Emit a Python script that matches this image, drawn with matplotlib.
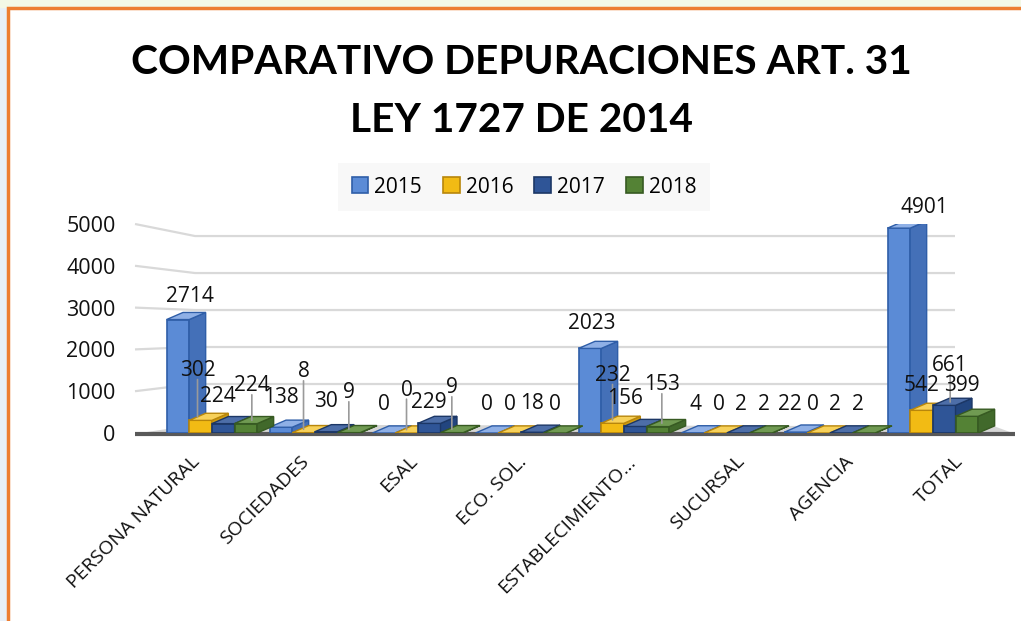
import matplotlib
matplotlib.use("Agg")
import matplotlib.pyplot as plt
from matplotlib.patches import Rectangle, Polygon
from matplotlib import font_manager as fm
import numpy as np

categories = ["PERSONA NATURAL", "SOCIEDADES", "ESAL", "ECO. SOL.",
              "ESTABLECIMIENTO…", "SUCURSAL", "AGENCIA", "TOTAL"]
years = ["2015", "2016", "2017", "2018"]
v2015 = [2714, 138, 0, 0, 2023, 4, 22, 4901]
v2016 = [302, 8, 0, 0, 232, 0, 0, 542]
v2017 = [224, 30, 229, 18, 156, 2, 2, 661]
v2018 = [224, 9, 9, 0, 153, 2, 2, 399]
series = [v2015, v2016, v2017, v2018]
yticks = [0, 1000, 2000, 3000, 4000, 5000]

# label placement (style): pixel shifts of each data label relative to its bar top
lab_dx = [
    [12, 0, 0, 0, 2, 3, -6, 26],
    [-3, 0, 0, 0, 0, 3, -6, 0],
    [-5, 0, 0, 0, -10, 3, -6, 6],
    [6, 0, 0, 0, 4, 3, -6, -5],
]
lab_dy = [
    [23, 30, 29, 29, 25, 28, 28, 21],
    [50, 61, 43, 29, 48, 28, 28, 25],
    [27, 30, 21, 29, 28, 28, 28, 40],
    [38, 40, 45, 29, 42, 28, 28, 31],
]
leader = [
    [0, 0, 0, 0, 0, 0, 0, 0],
    [1, 1, 1, 0, 1, 0, 0, 0],
    [0, 0, 0, 0, 0, 0, 0, 1],
    [1, 1, 1, 0, 1, 0, 0, 0],
]

front_colors = ["#5b8bd6", "#f2bb14", "#2f5597", "#548235"]
side_colors = ["#4470b8", "#cf9d10", "#22457f", "#41692b"]
top_colors = ["#8fb0e6", "#f7d15a", "#4d6ea8", "#709a52"]
edge_colors = ["#2f5ea8", "#b8860b", "#1c3766", "#375a22"]

names = set(f.name for f in fm.fontManager.ttflist)
body_font = "Open Sans" if "Open Sans" in names else "DejaVu Sans"
title_font = "Lato" if "Lato" in names else body_font

W, H = 1021, 621
fig = plt.figure(figsize=(W / 100, H / 100), dpi=100)
fig.patch.set_facecolor("#e8eff8")

# frame / background
bg = fig.add_axes([0, 0, 1, 1])
bg.set_xlim(0, W)
bg.set_ylim(H, 0)
bg.axis("off")
bg.add_patch(Rectangle((0, 0), W, 7, color="#f3f8e6", zorder=0))
bg.add_patch(Rectangle((8, 8), W, H, facecolor="white", edgecolor="#ed7d31", lw=2.5, zorder=1))

# axes geometry in pixels
x0_px, x1_px = 135, 1015
y0_px, y1_px = 433, 224
ax = fig.add_axes([x0_px / W, 1 - y0_px / H, (x1_px - x0_px) / W, (y0_px - y1_px) / H])
ax.patch.set_alpha(0)
cat_px0, cat_step = 217, 103
xlim = ((x0_px - cat_px0) / cat_step, (x1_px - cat_px0) / cat_step)
ax.set_xlim(*xlim)
ax.set_ylim(0, 5000)
for s in ax.spines.values():
    s.set_visible(False)

x = np.arange(len(categories))
wall_x = (195 - cat_px0) / cat_step
right_x = (955 - cat_px0) / cat_step

# back-wall gridlines (perspective)
for v in yticks[1:]:
    back = 287 + 0.885 * v
    ax.plot([xlim[0], wall_x, right_x], [v, back, back], color="#d9d9d9", lw=1.6,
            zorder=1, clip_on=False, solid_capstyle="butt")

# floor
ax.add_patch(Polygon([(xlim[0], -20), (xlim[1], -20), (xlim[1] - 0.2, 160), (wall_x, 200)],
                     closed=True, facecolor="#d6d6d6", edgecolor="none", zorder=1, clip_on=False))
ax.plot([xlim[0], xlim[1]], [-20, -20], color="#595959", lw=3, zorder=2, clip_on=False,
        solid_capstyle="butt")

# pseudo-3D bars
w = 0.22
dx, dy = 0.16, 170
offsets = [-0.49, -0.27, -0.05, 0.17]
px2pt = 0.72
for i, vals in enumerate(series):
    xs = x + offsets[i] + w / 2
    ax.bar(xs, vals, width=w, color=front_colors[i], edgecolor=edge_colors[i],
           lw=1.2, zorder=3 + i, label=years[i])
    for c, (xc, v) in enumerate(zip(xs, vals)):
        l, r = xc - w / 2, xc + w / 2
        ax.add_patch(Polygon([(r, 0), (r + dx, dy), (r + dx, v + dy), (r, v)], closed=True,
                             facecolor=side_colors[i], edgecolor=edge_colors[i], lw=1,
                             zorder=3 + i))
        ax.add_patch(Polygon([(l, v), (r, v), (r + dx, v + dy), (l + dx, v + dy)], closed=True,
                             facecolor=top_colors[i], edgecolor=edge_colors[i], lw=1,
                             zorder=3 + i))
        tx, ty = lab_dx[i][c] * px2pt, lab_dy[i][c] * px2pt
        ax.annotate(str(v), (xc, v), xytext=(tx, ty), textcoords="offset points",
                    ha="center", va="center", fontsize=15, family=body_font,
                    color="#111111", zorder=20, annotation_clip=False)
        if leader[i][c]:
            ax.annotate("", (xc + tx / px2pt / cat_step, v + 80), xytext=(0, ty - 9),
                        textcoords="offset points", zorder=19, annotation_clip=False,
                        arrowprops=dict(arrowstyle="-", color="#9a9a9a", lw=1.2,
                                        shrinkA=0, shrinkB=0))

ax.set_yticks(yticks)
ax.set_yticklabels([str(t) for t in yticks], fontsize=15.5, family=body_font, color="#111111")
ax.tick_params(axis="y", length=0, pad=14)
tick_pos = x - 0.26 + 0.0586 * x
ax.set_xticks(tick_pos)
ax.set_xticklabels(categories, rotation=45, ha="right", rotation_mode="anchor",
                   fontsize=14, family=body_font, color="#111111")
ax.tick_params(axis="x", length=0, pad=14)

leg = ax.legend(loc="upper center",
                bbox_to_anchor=((524 - x0_px) / (x1_px - x0_px), 1 + (224 - 163) / (y0_px - y1_px)),
                ncol=4, frameon=True, prop={"family": body_font, "size": 15},
                handlelength=0.8, handleheight=0.8, handletextpad=0.3, columnspacing=1.0,
                borderpad=0.65, borderaxespad=0, fancybox=False)
leg.get_frame().set_facecolor("#f7f7f7")
leg.get_frame().set_edgecolor("none")

t1 = fig.text(521 / W, 1 - 63 / H, "COMPARATIVO DEPURACIONES ART. 31", ha="center", va="center",
              fontsize=34, fontweight="bold", family=title_font, color="black")
t2 = fig.text(521 / W, 1 - 121 / H, "LEY 1727 DE 2014", ha="center", va="center",
              fontsize=34, fontweight="bold", family=title_font, color="black")
renderer = fig.canvas.get_renderer()
wid = t1.get_window_extent(renderer).width
scale = 782.0 / wid
t1.set_fontsize(34 * scale)
t2.set_fontsize(34 * scale)

fig.savefig("out.png", dpi=100)
